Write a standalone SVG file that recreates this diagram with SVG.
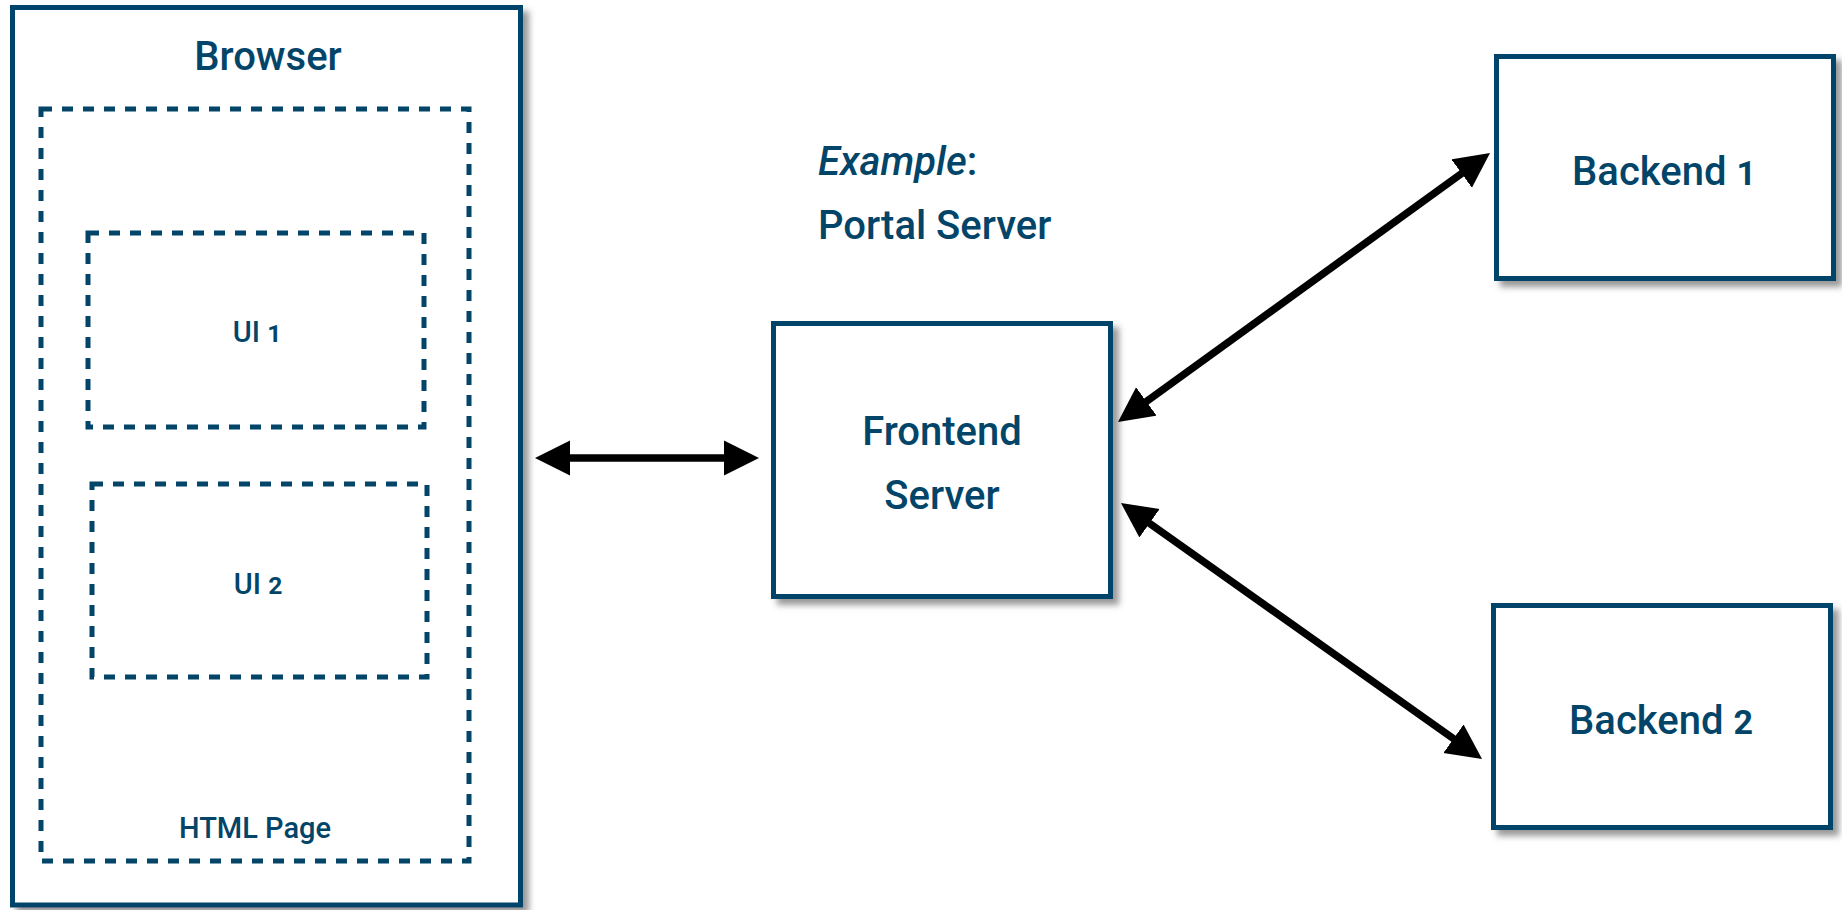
<svg xmlns="http://www.w3.org/2000/svg" width="1842" height="910" viewBox="0 0 1842 910">
  <style>
    .box { fill: #ffffff; stroke: #034569; stroke-width: 5; }
    .dash { fill: none; stroke: #034569; stroke-width: 5; stroke-dasharray: 11 10; }
    .lbl { font-family: Roboto, "Liberation Sans", sans-serif; font-weight: 500; fill: #034569; text-anchor: middle; }
    .big { font-size: 40px; }
    .small { font-size: 29px; }
    .num { font-size: 0.85em; font-weight: 700; }
    .conn { stroke: #000000; stroke-width: 7.5; fill: none; marker-start: url(#arr); marker-end: url(#arr); }
  </style>
  <defs>
    <filter id="sh" x="-10%" y="-10%" width="130%" height="130%">
      <feDropShadow dx="6" dy="6" stdDeviation="3" flood-color="#555555" flood-opacity="0.6"/>
    </filter>
    <marker id="arr" markerUnits="userSpaceOnUse" viewBox="0 -18 35 36" markerWidth="35" markerHeight="36" refX="14" refY="0" orient="auto-start-reverse">
      <path d="M35,0 L0,-17.5 L0,17.5 Z" fill="#000000"/>
    </marker>
  </defs>

  <rect width="1842" height="910" fill="#ffffff"/>

  <g id="browser">
    <rect class="box" x="12.5" y="7.5" width="508" height="897.5" filter="url(#sh)"/>
    <text class="lbl big" x="268" y="70">Browser</text>
  </g>

  <g id="html-page">
    <rect class="dash" x="41" y="109" width="428" height="752"/>
    <text class="lbl small" x="255" y="838">HTML Page</text>
  </g>

  <g id="ui1">
    <rect class="dash" x="88" y="233" width="336" height="194"/>
    <text class="lbl small" x="257" y="342">UI <tspan class="num">1</tspan></text>
  </g>

  <g id="ui2">
    <rect class="dash" x="92" y="484" width="335" height="193"/>
    <text class="lbl small" x="258" y="594">UI <tspan class="num">2</tspan></text>
  </g>

  <g id="portal-label">
    <text class="lbl big" x="818" y="175" style="text-anchor:start"><tspan font-style="italic">Example</tspan>:</text>
    <text class="lbl big" x="818" y="239" style="text-anchor:start">Portal Server</text>
  </g>

  <g id="frontend">
    <rect class="box" x="773.5" y="323.5" width="337" height="273" filter="url(#sh)"/>
    <text class="lbl big" x="942" y="445">Frontend</text>
    <text class="lbl big" x="942" y="509">Server</text>
  </g>

  <g id="backend1">
    <rect class="box" x="1496.5" y="56.5" width="337" height="222" filter="url(#sh)"/>
    <text class="lbl big" x="1664" y="185">Backend <tspan class="num">1</tspan></text>
  </g>

  <g id="backend2">
    <rect class="box" x="1493.5" y="605.5" width="337" height="222" filter="url(#sh)"/>
    <text class="lbl big" x="1661" y="734">Backend <tspan class="num">2</tspan></text>
  </g>

  <g id="connectors">
    <line class="conn" x1="556" y1="458" x2="738" y2="458"/>
    <line class="conn" x1="1135" y1="409.7" x2="1473" y2="165.3"/>
    <line class="conn" x1="1138.1" y1="515.2" x2="1464.9" y2="746.8"/>
  </g>
</svg>
